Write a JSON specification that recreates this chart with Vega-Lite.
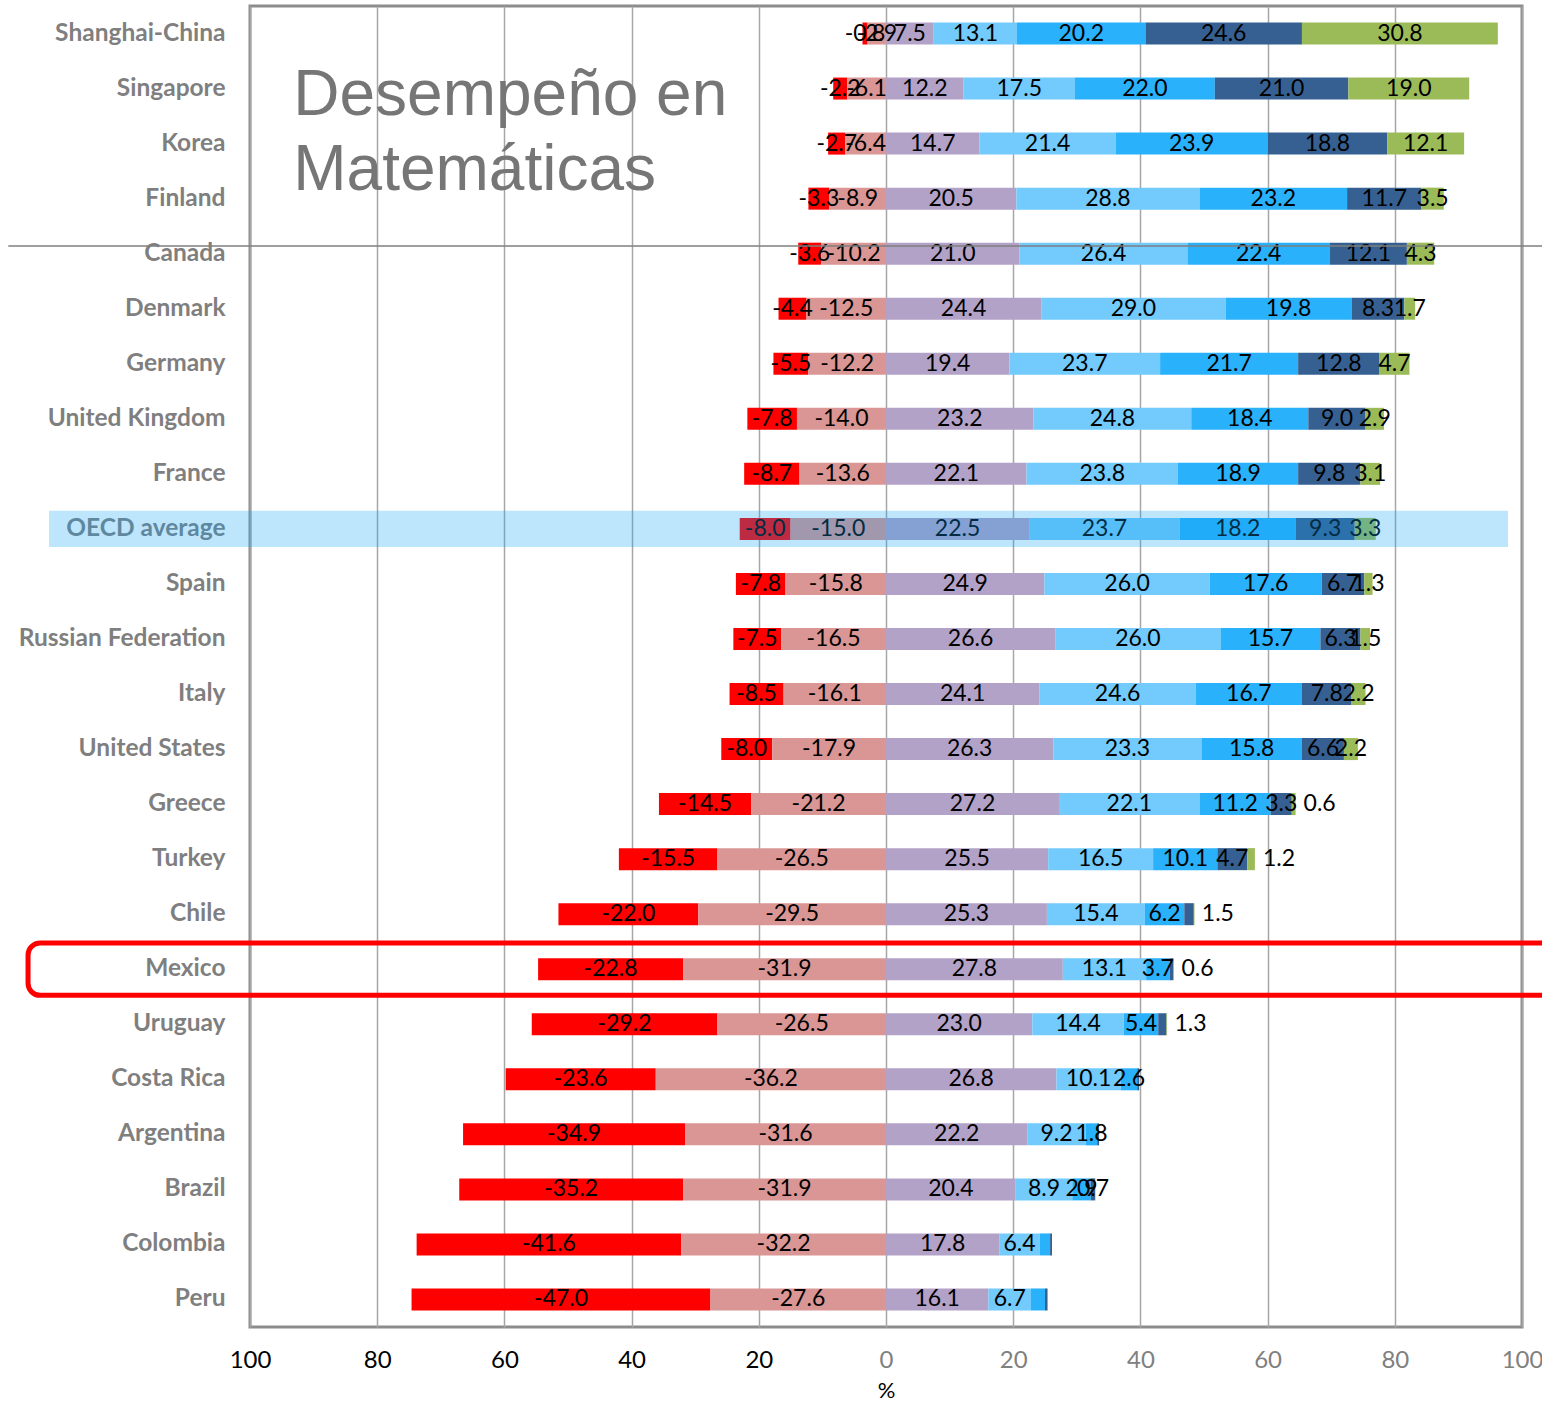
{
  "$schema": "https://vega.github.io/schema/vega-lite/v6.json",
  "width": 1272,
  "height": 1321,
  "autosize": "none",
  "padding": {"left": 250, "top": 6, "right": 20, "bottom": 75},
  "background": "white",
  "config": {
    "locale": {"number": {"decimal": ".", "thousands": ",", "grouping": [3], "currency": ["$", ""], "minus": "-"}},
    "view": {"stroke": "#8C8C8C", "strokeWidth": 3},
    "font": "Lato"
  },
  "data": {
    "values": [
      {"country": "Shanghai-China", "L1below": -0.8, "L1": -2.9, "L2": 7.5, "L3": 13.1, "L4": 20.2, "L5": 24.6, "L6": 30.8},
      {"country": "Singapore", "L1below": -2.2, "L1": -6.1, "L2": 12.2, "L3": 17.5, "L4": 22.0, "L5": 21.0, "L6": 19.0},
      {"country": "Korea", "L1below": -2.7, "L1": -6.4, "L2": 14.7, "L3": 21.4, "L4": 23.9, "L5": 18.8, "L6": 12.1},
      {"country": "Finland", "L1below": -3.3, "L1": -8.9, "L2": 20.5, "L3": 28.8, "L4": 23.2, "L5": 11.7, "L6": 3.5},
      {"country": "Canada", "L1below": -3.6, "L1": -10.2, "L2": 21.0, "L3": 26.4, "L4": 22.4, "L5": 12.1, "L6": 4.3},
      {"country": "Denmark", "L1below": -4.4, "L1": -12.5, "L2": 24.4, "L3": 29.0, "L4": 19.8, "L5": 8.3, "L6": 1.7},
      {"country": "Germany", "L1below": -5.5, "L1": -12.2, "L2": 19.4, "L3": 23.7, "L4": 21.7, "L5": 12.8, "L6": 4.7},
      {"country": "United Kingdom", "L1below": -7.8, "L1": -14.0, "L2": 23.2, "L3": 24.8, "L4": 18.4, "L5": 9.0, "L6": 2.9},
      {"country": "France", "L1below": -8.7, "L1": -13.6, "L2": 22.1, "L3": 23.8, "L4": 18.9, "L5": 9.8, "L6": 3.1},
      {"country": "OECD average", "L1below": -8.0, "L1": -15.0, "L2": 22.5, "L3": 23.7, "L4": 18.2, "L5": 9.3, "L6": 3.3},
      {"country": "Spain", "L1below": -7.8, "L1": -15.8, "L2": 24.9, "L3": 26.0, "L4": 17.6, "L5": 6.7, "L6": 1.3},
      {"country": "Russian Federation", "L1below": -7.5, "L1": -16.5, "L2": 26.6, "L3": 26.0, "L4": 15.7, "L5": 6.3, "L6": 1.5},
      {"country": "Italy", "L1below": -8.5, "L1": -16.1, "L2": 24.1, "L3": 24.6, "L4": 16.7, "L5": 7.8, "L6": 2.2},
      {"country": "United States", "L1below": -8.0, "L1": -17.9, "L2": 26.3, "L3": 23.3, "L4": 15.8, "L5": 6.6, "L6": 2.2},
      {"country": "Greece", "L1below": -14.5, "L1": -21.2, "L2": 27.2, "L3": 22.1, "L4": 11.2, "L5": 3.3, "L6": 0.6},
      {"country": "Turkey", "L1below": -15.5, "L1": -26.5, "L2": 25.5, "L3": 16.5, "L4": 10.1, "L5": 4.7, "L6": 1.2},
      {"country": "Chile", "L1below": -22.0, "L1": -29.5, "L2": 25.3, "L3": 15.4, "L4": 6.2, "L5": 1.5, "L6": 0.1},
      {"country": "Mexico", "L1below": -22.8, "L1": -31.9, "L2": 27.8, "L3": 13.1, "L4": 3.7, "L5": 0.6, "L6": 0.0},
      {"country": "Uruguay", "L1below": -29.2, "L1": -26.5, "L2": 23.0, "L3": 14.4, "L4": 5.4, "L5": 1.3, "L6": 0.1},
      {"country": "Costa Rica", "L1below": -23.6, "L1": -36.2, "L2": 26.8, "L3": 10.1, "L4": 2.6, "L5": 0.3, "L6": 0.0},
      {"country": "Argentina", "L1below": -34.9, "L1": -31.6, "L2": 22.2, "L3": 9.2, "L4": 1.8, "L5": 0.3, "L6": 0.0},
      {"country": "Brazil", "L1below": -35.2, "L1": -31.9, "L2": 20.4, "L3": 8.9, "L4": 2.9, "L5": 0.7, "L6": 0.0},
      {"country": "Colombia", "L1below": -41.6, "L1": -32.2, "L2": 17.8, "L3": 6.4, "L4": 1.6, "L5": 0.3, "L6": 0.0},
      {"country": "Peru", "L1below": -47.0, "L1": -27.6, "L2": 16.1, "L3": 6.7, "L4": 2.2, "L5": 0.4, "L6": 0.0}
    ]
  },
  "layer": [
    {
      "transform": [
        {"fold": ["L1below", "L1", "L2", "L3", "L4", "L5", "L6"], "as": ["level", "value"]},
        {"stack": "value", "groupby": ["country"], "sort": [{"field": "level", "order": "ascending"}], "as": ["x0", "x1"], "offset": "zero"}
      ],
      "layer": [
        {
          "mark": {"type": "bar", "height": {"band": 0.4}},
          "encoding": {
            "x": {
              "field": "x0", "type": "quantitative", "title": "%",
              "scale": {"domain": [-100, 100], "nice": false, "zero": false},
              "axis": {
                "values": [-100, -80, -60, -40, -20, 0, 20, 40, 60, 80, 100],
                "labelExpr": "abs(datum.value)",
                "grid": true, "gridColor": "#A6A6A6", "gridWidth": 1.5,
                "domain": false, "ticks": false,
                "labelFont": "Lato", "labelFontSize": 24,
                "labelColor": {"condition": {"test": "datum.value < 0", "value": "black"}, "value": "#808080"},
                "labelPadding": 21, "labelFlush": false, "labelOverlap": false,
                "title": "%", "titleFont": "Lato", "titleFontSize": 22,
                "titleFontWeight": "normal", "titleColor": "black", "titlePadding": 8
              }
            },
            "x2": {"field": "x1"},
            "y": {
              "field": "country", "type": "nominal",
              "scale": {
                "domain": ["Shanghai-China", "Singapore", "Korea", "Finland", "Canada", "Denmark", "Germany", "United Kingdom", "France", "OECD average", "Spain", "Russian Federation", "Italy", "United States", "Greece", "Turkey", "Chile", "Mexico", "Uruguay", "Costa Rica", "Argentina", "Brazil", "Colombia", "Peru"],
                "paddingInner": 0, "paddingOuter": 0
              },
              "axis": {
                "title": null, "ticks": false, "domain": false, "grid": false,
                "labelFont": "Lato", "labelFontWeight": "bold", "labelFontSize": 24.5,
                "labelColor": "#7F7F7F", "labelPadding": 25, "labelLimit": 400
              }
            },
            "color": {
              "field": "level", "type": "nominal",
              "scale": {
                "domain": ["L1below", "L1", "L2", "L3", "L4", "L5", "L6"],
                "range": ["#FF0000", "#D99694", "#B3A2C7", "#72CBFC", "#29B1FB", "#376092", "#9BBB59"]
              },
              "legend": null
            }
          }
        },
        {
          "transform": [
            {"filter": "abs(datum.value) >= 0.5 && !((datum.country === 'Colombia' || datum.country === 'Peru') && datum.level === 'L4') && !(datum.value > 0 && datum.value < 1.6 && indexof(['Greece', 'Turkey', 'Chile', 'Mexico', 'Uruguay'], datum.country) >= 0)"},
            {"fold": ["x0", "x1"], "as": ["edge", "pos"]}
          ],
          "mark": {"type": "text", "font": "Lato", "fontSize": 23, "color": "black", "align": "center", "baseline": "middle"},
          "encoding": {
            "x": {"field": "pos", "type": "quantitative", "aggregate": "mean", "title": "%"},
            "y": {"field": "country", "type": "nominal"},
            "detail": {"field": "level", "type": "nominal"},
            "text": {"field": "value", "type": "quantitative", "aggregate": "mean", "format": ".1f"}
          }
        },
        {
          "transform": [
            {"filter": "datum.value >= 0.5 && datum.value < 1.6 && indexof(['Greece', 'Turkey', 'Chile', 'Mexico', 'Uruguay'], datum.country) >= 0"}
          ],
          "mark": {"type": "text", "font": "Lato", "fontSize": 23, "color": "black", "align": "left", "baseline": "middle", "dx": 8},
          "encoding": {
            "x": {"field": "x1", "type": "quantitative", "title": "%"},
            "y": {"field": "country", "type": "nominal"},
            "text": {"field": "value", "type": "quantitative", "format": ".1f"}
          }
        }
      ]
    },
    {
      "data": {"values": [{}]},
      "mark": {"type": "text", "text": ["Desempeño en", "Matemáticas"], "font": "Liberation Sans", "fontSize": 64, "lineHeight": 75, "color": "#767676", "align": "left", "baseline": "alphabetic", "dy": 81},
      "encoding": {"x": {"datum": -93.2}, "y": {"datum": "Shanghai-China"}}
    },
    {
      "data": {"values": [{}]},
      "mark": {"type": "rule", "color": "#7F7F7F", "strokeWidth": 1.5},
      "encoding": {"x": {"datum": -138}, "x2": {"datum": 104}, "y": {"datum": "Canada", "bandPosition": 0.36}}
    },
    {
      "data": {"values": [{}]},
      "mark": {"type": "bar", "height": {"band": 0.95}, "fillOpacity": 0, "stroke": "#FF0000", "strokeWidth": 5, "cornerRadius": 12},
      "encoding": {"x": {"datum": -134.9}, "x2": {"datum": 106}, "y": {"datum": "Mexico"}}
    },
    {
      "data": {"values": [{}]},
      "mark": {"type": "bar", "height": {"band": 0.66}, "color": "#0AA0F5", "opacity": 0.27},
      "encoding": {"x": {"datum": -131.6}, "x2": {"datum": 97.8}, "y": {"datum": "OECD average"}}
    }
  ]
}
